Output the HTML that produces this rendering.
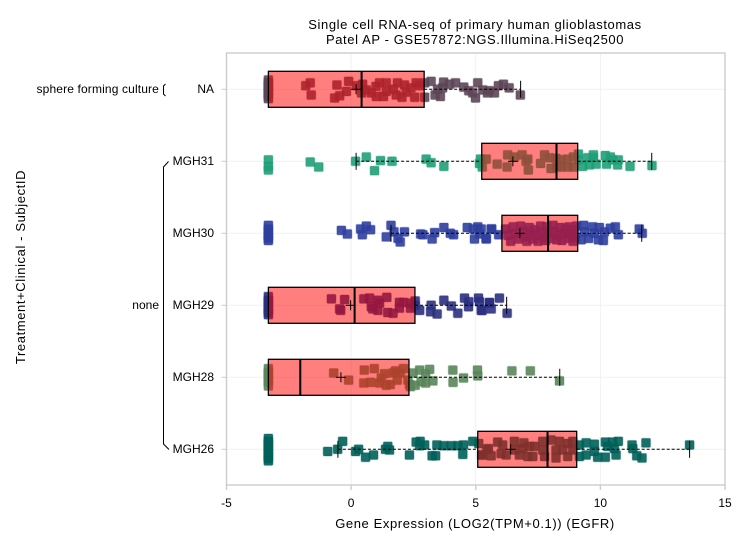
<!DOCTYPE html>
<html>
<head>
<meta charset="utf-8">
<style>
html,body{margin:0;padding:0;background:#fff;}
svg{display:block;font-family:"Liberation Sans",sans-serif;fill:#000;}
text{font-size:12px;}
.wide{font-size:13px;letter-spacing:0.6px;}
</style>
</head>
<body>
<svg id="chart" width="751" height="544" viewBox="0 0 751 544" xmlns="http://www.w3.org/2000/svg">
<text class="wide" x="475" y="29" text-anchor="middle">Single cell RNA-seq of primary human glioblastomas</text>
<text class="wide" x="475" y="44" text-anchor="middle">Patel AP - GSE57872:NGS.Illumina.HiSeq2500</text>
<text class="wide" x="475" y="528" text-anchor="middle">Gene Expression (LOG2(TPM+0.1)) (EGFR)</text>
<text class="wide" transform="translate(25,267) rotate(-90)" text-anchor="middle">Treatment+Clinical - SubjectID</text>
<text x="159" y="93" text-anchor="end" style="letter-spacing:0.14px">sphere forming culture</text>
<text x="159" y="309" text-anchor="end">none</text>
<path d="M165.5 84 L163.5 86 L163.5 94 L165.5 96" fill="none" stroke="#000" stroke-width="1"/>
<path d="M168.5 161.5 L163.5 167 L163.5 444 L169 449.5" fill="none" stroke="#000" stroke-width="1"/>
<g id="grid"></g>
<g id="marks"></g>
<g id="axes"></g>
</svg>
<script>
const subjects = ["NA","MGH31","MGH30","MGH29","MGH28","MGH26"];
const colors = ["#5d4658","#1f9e78","#2f3f9e","#2b3080","#5a855a","#00605a"];
const xTicks = [-5,0,5,10,15];

const q1 = [-3.32,5.24,6.05,-3.32,-3.32,5.08];
const medians = [0.42,8.24,7.9,0.14,-2.04,7.88];
const q3 = [2.93,9.09,9.09,2.56,2.32,9.05];
const means = [0.2,6.49,6.77,-0.02,-0.41,6.4];
const whiskerLow = [-3.32,0.2,1.6,-3.32,-3.32,-0.53];
const whiskerHigh = [6.8,12.06,11.66,6.24,8.37,13.58];

const naValues = [-3.32,-3.32,-3.32,-3.32,-3.32,-3.32,-3.32,-3.32,-1.82,-1.64,-1.6,-0.57,-0.66,-0.46,-0.1,-0.19,0.21,0.46,0.42,0.61,0.81,1.01,1.14,1.41,1.41,1.3,1.86,1.81,2.14,2.21,2.04,2.61,2.75,2.55,2.95,3.21,2.95,3.37,3.58,3.47,3.71,3.67,3.95,4.19,4.52,4.72,4.88,5.08,5.28,4.99,5.55,5.75,5.47,5.91,6.11,6.34,6.79,1.7,2.4,1.0];
const naJitter = [-0.13,-0.09,-0.05,-0.02,0.02,0.06,0.1,0.13,-0.05,-0.09,0.08,-0.06,0.12,0.09,-0.11,0.03,-0.05,-0.07,0.05,0.01,0.05,0.1,-0.09,-0.09,0.03,0.1,-0.09,0.08,-0.06,0.04,0.11,-0.09,-0.05,0.11,-0.09,-0.11,0.11,0.08,0.1,0,-0.1,-0.02,-0.07,-0.09,-0.03,0.02,0.05,-0.09,0.01,0.12,0.02,0.05,0.05,-0.05,-0.07,-0.02,0.08,0,-0.02,-0.04];

const mgh31Values = [-3.32,-3.32,-3.32,-1.64,-1.3,0.18,0.61,0.94,1.18,1.64,3.01,3.21,3.72,5.19,5.15,5.26,5.42,5.86,6.26,6.28,6.55,6.86,7.09,7.02,7.11,7.6,7.76,7.96,8.02,8.22,8.26,8.42,8.42,8.67,8.69,8.92,8.92,9.12,9.12,9.29,9.49,9.56,9.72,9.72,9.83,10.2,10.4,10.25,10.49,10.72,10.69,11.19,12.07];
const mgh31Jitter = [-0.02,0.07,0.12,0.01,0.08,0,-0.06,0.13,-0.01,0,-0.03,0.02,0.07,-0.03,0.03,0.08,-0.03,0.04,0.08,-0.09,-0.06,-0.09,-0.03,0,0.12,0.03,-0.09,-0.05,0.1,-0.04,0.08,-0.02,0.08,-0.03,0.08,-0.06,0.08,-0.1,-0.02,0.07,-0.05,0.05,-0.09,-0.05,0.04,-0.08,-0.06,0.04,-0.02,-0.02,0.05,0.07,0.06];

const mgh30Values = [-3.32,-3.32,-3.32,-3.32,-3.32,-3.32,-0.39,-0.15,0.38,0.61,0.78,0.45,1.6,1.41,1.72,1.88,1.97,2.14,2.79,2.88,3.25,3.35,3.72,3.98,4.11,4.66,4.91,5.08,5.15,4.95,5.42,5.62,5.22,5.42,5.64,5.92,6.2,6.3,6.4,6.5,6.6,6.7,6.8,6.9,7.0,7.05,7.15,7.2,7.3,7.35,7.45,7.5,7.6,7.65,7.75,7.8,7.85,7.9,8.0,8.1,8.15,8.25,8.3,8.4,8.45,8.55,8.6,8.7,8.75,8.85,8.9,8.95,9.0,9.05,9.33,9.23,9.36,9.53,9.69,9.76,9.96,9.92,10.12,10.16,10.4,10.6,10.72,11.56,11.68];
const mgh30Jitter = [-0.11,-0.06,-0.02,0.03,0.07,0.1,-0.04,0.01,-0.06,-0.1,-0.05,0.02,-0.11,0.05,-0.02,0.07,0.12,-0.02,0.01,0.02,0.08,-0.01,-0.08,0,0.02,-0.08,-0.06,-0.09,0.01,0.08,0.07,-0.06,-0.06,0.08,-0.06,0.02,-0.06,0.03,0.11,-0.09,0,0.08,-0.1,-0.03,0.05,0.11,-0.08,0,0.08,-0.05,0.03,0.11,-0.1,-0.02,0.06,0.1,-0.09,0,0.07,-0.11,-0.03,0.09,0.03,-0.08,0.1,0,-0.06,0.07,-0.09,0.02,0.11,-0.05,0.06,-0.1,-0.11,0.09,-0.02,0.07,-0.09,0,-0.08,0.09,0.1,-0.02,-0.07,-0.09,0.02,-0.06,0];

const mgh29Values = [-3.32,-3.32,-3.32,-3.32,-3.32,-3.32,-3.32,-0.79,-0.26,-0.46,-0.42,0.51,0.74,1.07,0.81,0.87,1.07,1.14,1.43,1.47,1.68,1.94,1.94,2.1,2.38,2.38,2.57,2.57,2.75,3.21,3.19,3.45,3.72,4.02,4.28,4.55,4.72,4.71,5.11,5.15,5.22,5.55,5.26,5.55,5.62,5.95,6.26];
const mgh29Jitter = [-0.12,-0.07,-0.03,0.02,0.06,0.1,0.13,-0.09,-0.08,0.05,0.07,-0.09,-0.1,-0.07,0.02,0.05,0.07,-0.03,-0.11,0.1,0.11,-0.04,0.04,-0.04,-0.03,0.04,-0.06,0,0.07,0,0.09,0.12,-0.07,0.01,0.11,-0.1,-0.05,0.02,-0.1,-0.05,0.07,-0.03,0.07,-0.04,0.05,-0.1,0.11];

const mgh28Values = [-3.32,-3.32,-3.32,-3.32,-3.32,-3.32,-0.7,-0.1,0.53,0.93,0.51,0.78,1.34,1.21,1.14,1.41,1.57,1.68,1.78,1.85,1.97,2.1,2.28,2.34,2.38,2.48,2.57,2.75,2.81,2.99,2.99,3.15,3.28,4.08,4.09,4.51,5.07,5.08,6.45,7.19,8.36];
const mgh28Jitter = [-0.12,-0.07,-0.03,0.02,0.07,0.12,-0.06,0.04,-0.1,-0.12,0.08,0.07,-0.05,0.01,0.08,0.11,0.1,-0.06,-0.09,0.04,-0.06,-0.12,0.04,0.1,0.13,-0.06,0.11,-0.1,0.06,0.08,-0.05,-0.11,0.05,-0.1,0.07,0.01,-0.1,-0.02,-0.09,-0.09,0.05];

const mgh26Values = [-3.32,-3.32,-3.32,-3.32,-3.32,-3.32,-3.32,-3.32,-3.32,-0.94,-0.54,-0.34,0.18,0.3,0.58,0.9,1.38,1.47,1.54,2.34,2.61,2.77,2.75,2.95,3.25,3.39,3.44,3.72,4.02,4.28,4.51,4.48,4.88,5.12,5.24,5.44,5.51,5.28,5.62,5.88,6.08,6.02,6.22,6.55,6.55,6.75,6.93,6.89,7.09,7.15,7.35,7.29,7.69,7.69,7.76,8.02,8.22,8.22,8.36,8.69,8.69,8.49,8.89,8.89,9.16,9.16,9.43,9.43,9.76,9.89,9.76,10.2,10.2,10.29,10.49,10.72,10.63,10.56,11.27,11.3,11.46,11.67,11.83,13.58];
const mgh26Jitter = [-0.15,-0.11,-0.07,-0.03,0.01,0.05,0.09,0.13,0.16,0.03,0,-0.11,0.03,0,0.11,0.08,0,-0.04,0.01,0.08,-0.1,-0.11,-0.05,-0.06,0.09,0.09,-0.06,-0.05,-0.05,-0.05,-0.06,0.07,-0.11,-0.08,0.08,0,-0.01,0.08,0.09,-0.1,-0.06,0.06,0.08,-0.11,0.01,0.08,-0.09,-0.01,0.1,-0.04,-0.04,0.1,-0.11,0.01,0.1,-0.13,0.01,0.12,-0.11,-0.08,0.1,0.01,-0.11,0.01,-0.06,0.1,-0.09,0.08,-0.07,0.11,0.03,-0.1,0.11,-0.04,-0.1,-0.11,0.08,-0.01,-0.06,-0.01,0.09,0.12,-0.09,-0.06];

const seriesValues = [naValues,mgh31Values,mgh30Values,mgh29Values,mgh28Values,mgh26Values];
const seriesJitter = [naJitter,mgh31Jitter,mgh30Jitter,mgh29Jitter,mgh28Jitter,mgh26Jitter];

const NS = "http://www.w3.org/2000/svg";
const plotLeft = 226.5, plotRight = 725, plotTop = 53, plotBottom = 485;
const domainMin = -5, domainMax = 15;
const firstRow = 89.3, rowStep = 72;
function xScale(v){ return plotLeft + (v - domainMin) * (plotRight - plotLeft) / (domainMax - domainMin); }
function yScale(i){ return firstRow + i * rowStep; }
function jitterScale(j){ return j * rowStep; }
function make(tag, attrs, parent){
  const el = document.createElementNS(NS, tag);
  for (const k in attrs) el.setAttribute(k, attrs[k]);
  parent.appendChild(el);
  return el;
}
const grid = document.getElementById("grid");
const marks = document.getElementById("marks");
const axes = document.getElementById("axes");

xTicks.forEach(function(t){
  const x = xScale(t);
  const g = make("line",{x1:x,x2:x,y1:plotTop,y2:plotBottom,stroke:"#f1f1f1","stroke-width":1},grid);
  
  
  const tick = make("line",{x1:x,x2:x,y1:plotBottom,y2:plotBottom+5,stroke:"#cccccc","stroke-width":1.4},axes);
  
  
  const lab = make("text",{x:x,y:plotBottom+22,"text-anchor":"middle"},axes);
  
  
  lab.textContent = String(t);
});

subjects.forEach(function(name,i){
  const y = yScale(i);
  const g = make("line",{x1:plotLeft,x2:plotRight,y1:y,y2:y,stroke:"#f1f1f1","stroke-width":1},grid);
  
  
  const tick = make("line",{x1:plotLeft-5,x2:plotLeft,y1:y,y2:y,stroke:"#cccccc","stroke-width":1},axes);
  
  
  const lab = make("text",{x:214,y:y+3.5,"text-anchor":"end"},axes);
  
  
  lab.textContent = name;

  const vals = seriesValues[i], jit = seriesJitter[i];
  vals.forEach(function(v,k){
    const r = make("rect",{x:xScale(v)-4.5,y:y+jitterScale(jit[k])-4.5,width:9,height:9,rx:1.2,fill:colors[i],"fill-opacity":0.9,stroke:colors[i],"stroke-opacity":0.3,"stroke-width":1.2},marks);
    
    
  });
});

subjects.forEach(function(name,i){
  const y = yScale(i);
  const halfBox = 18, halfCap = 8.5, halfPlus = 5;
  if (whiskerLow[i] < q1[i]) {
    const wl = make("line",{x1:xScale(whiskerLow[i]),x2:xScale(q1[i]),y1:y,y2:y,stroke:"#000","stroke-width":1,"stroke-dasharray":"3,2"},marks);
    
    
    const cl = make("line",{x1:xScale(whiskerLow[i]),x2:xScale(whiskerLow[i]),y1:y-halfCap,y2:y+halfCap,stroke:"#000","stroke-width":1},marks);
    
    
  }
  const wh = make("line",{x1:xScale(q3[i]),x2:xScale(whiskerHigh[i]),y1:y,y2:y,stroke:"#000","stroke-width":1,"stroke-dasharray":"3,2"},marks);
  
  
  const ch = make("line",{x1:xScale(whiskerHigh[i]),x2:xScale(whiskerHigh[i]),y1:y-halfCap,y2:y+halfCap,stroke:"#000","stroke-width":1},marks);
  
  
  const box = make("rect",{x:xScale(q1[i]),y:y-halfBox,width:xScale(q3[i])-xScale(q1[i]),height:halfBox*2,fill:"#ff0000","fill-opacity":0.5,stroke:"#000","stroke-width":1.3},marks);
  
  
  const med = make("line",{x1:xScale(medians[i]),x2:xScale(medians[i]),y1:y-halfBox,y2:y+halfBox,stroke:"#000","stroke-width":2},marks);
  
  
  const mh = make("line",{x1:xScale(means[i])-halfPlus,x2:xScale(means[i])+halfPlus,y1:y,y2:y,stroke:"#000","stroke-width":1},marks);
  
  
  const mv = make("line",{x1:xScale(means[i]),x2:xScale(means[i]),y1:y-halfPlus,y2:y+halfPlus,stroke:"#000","stroke-width":1},marks);
  
  
});

const frame = make("rect",{x:plotLeft,y:plotTop,width:plotRight-plotLeft,height:plotBottom-plotTop,fill:"none",stroke:"#cccccc","stroke-width":1.4},axes);


</script>
</body>
</html>
